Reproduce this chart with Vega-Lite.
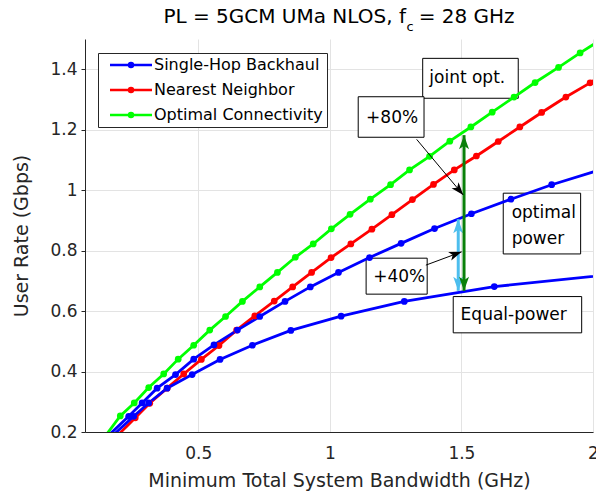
{
  "$schema": "https://vega.github.io/schema/vega-lite/v6.json",
  "autosize": {"type": "none"},
  "padding": {"left": 85, "top": 39, "right": 3, "bottom": 65},
  "width": 508,
  "height": 393,
  "background": "#ffffff",
  "config": {
    "view": {"stroke": null},
    "font": "DejaVu Sans"
  },
  "title": {
    "text": "PL = 5GCM UMa NLOS, f\u00a0 = 28 GHz",
    "font": "DejaVu Sans",
    "fontSize": 20,
    "fontWeight": "normal",
    "color": "#000000",
    "anchor": "middle",
    "frame": "group",
    "baseline": "top",
    "offset": -6.5
  },
  "datasets": {
    "series": [
      {"s": "Optimal Connectivity", "p": "opt", "x": 0.12, "y": 0.155},
      {"s": "Optimal Connectivity", "p": "opt", "x": 0.204, "y": 0.253},
      {"s": "Optimal Connectivity", "p": "opt", "x": 0.257, "y": 0.296},
      {"s": "Optimal Connectivity", "p": "opt", "x": 0.312, "y": 0.347},
      {"s": "Optimal Connectivity", "p": "opt", "x": 0.369, "y": 0.392},
      {"s": "Optimal Connectivity", "p": "opt", "x": 0.424, "y": 0.441},
      {"s": "Optimal Connectivity", "p": "opt", "x": 0.483, "y": 0.487},
      {"s": "Optimal Connectivity", "p": "opt", "x": 0.544, "y": 0.537},
      {"s": "Optimal Connectivity", "p": "opt", "x": 0.604, "y": 0.582},
      {"s": "Optimal Connectivity", "p": "opt", "x": 0.668, "y": 0.632},
      {"s": "Optimal Connectivity", "p": "opt", "x": 0.734, "y": 0.680},
      {"s": "Optimal Connectivity", "p": "opt", "x": 0.801, "y": 0.728},
      {"s": "Optimal Connectivity", "p": "opt", "x": 0.869, "y": 0.778},
      {"s": "Optimal Connectivity", "p": "opt", "x": 0.937, "y": 0.822},
      {"s": "Optimal Connectivity", "p": "opt", "x": 1.006, "y": 0.872},
      {"s": "Optimal Connectivity", "p": "opt", "x": 1.077, "y": 0.920},
      {"s": "Optimal Connectivity", "p": "opt", "x": 1.154, "y": 0.970},
      {"s": "Optimal Connectivity", "p": "opt", "x": 1.231, "y": 1.018},
      {"s": "Optimal Connectivity", "p": "opt", "x": 1.303, "y": 1.067},
      {"s": "Optimal Connectivity", "p": "opt", "x": 1.379, "y": 1.112},
      {"s": "Optimal Connectivity", "p": "opt", "x": 1.456, "y": 1.162},
      {"s": "Optimal Connectivity", "p": "opt", "x": 1.536, "y": 1.209},
      {"s": "Optimal Connectivity", "p": "opt", "x": 1.617, "y": 1.258},
      {"s": "Optimal Connectivity", "p": "opt", "x": 1.700, "y": 1.308},
      {"s": "Optimal Connectivity", "p": "opt", "x": 1.780, "y": 1.356},
      {"s": "Optimal Connectivity", "p": "opt", "x": 1.869, "y": 1.406},
      {"s": "Optimal Connectivity", "p": "opt", "x": 1.951, "y": 1.454},
      {"s": "Optimal Connectivity", "p": "opt", "x": 2.04, "y": 1.503},

      {"s": "Nearest Neighbor", "p": "opt", "x": 0.155, "y": 0.155},
      {"s": "Nearest Neighbor", "p": "opt", "x": 0.261, "y": 0.247},
      {"s": "Nearest Neighbor", "p": "opt", "x": 0.316, "y": 0.295},
      {"s": "Nearest Neighbor", "p": "opt", "x": 0.382, "y": 0.345},
      {"s": "Nearest Neighbor", "p": "opt", "x": 0.445, "y": 0.392},
      {"s": "Nearest Neighbor", "p": "opt", "x": 0.512, "y": 0.440},
      {"s": "Nearest Neighbor", "p": "opt", "x": 0.579, "y": 0.486},
      {"s": "Nearest Neighbor", "p": "opt", "x": 0.646, "y": 0.537},
      {"s": "Nearest Neighbor", "p": "opt", "x": 0.715, "y": 0.584},
      {"s": "Nearest Neighbor", "p": "opt", "x": 0.789, "y": 0.633},
      {"s": "Nearest Neighbor", "p": "opt", "x": 0.859, "y": 0.680},
      {"s": "Nearest Neighbor", "p": "opt", "x": 0.931, "y": 0.728},
      {"s": "Nearest Neighbor", "p": "opt", "x": 1.005, "y": 0.777},
      {"s": "Nearest Neighbor", "p": "opt", "x": 1.080, "y": 0.822},
      {"s": "Nearest Neighbor", "p": "opt", "x": 1.160, "y": 0.871},
      {"s": "Nearest Neighbor", "p": "opt", "x": 1.236, "y": 0.919},
      {"s": "Nearest Neighbor", "p": "opt", "x": 1.314, "y": 0.969},
      {"s": "Nearest Neighbor", "p": "opt", "x": 1.394, "y": 1.019},
      {"s": "Nearest Neighbor", "p": "opt", "x": 1.473, "y": 1.067},
      {"s": "Nearest Neighbor", "p": "opt", "x": 1.557, "y": 1.113},
      {"s": "Nearest Neighbor", "p": "opt", "x": 1.640, "y": 1.161},
      {"s": "Nearest Neighbor", "p": "opt", "x": 1.722, "y": 1.209},
      {"s": "Nearest Neighbor", "p": "opt", "x": 1.805, "y": 1.257},
      {"s": "Nearest Neighbor", "p": "opt", "x": 1.897, "y": 1.308},
      {"s": "Nearest Neighbor", "p": "opt", "x": 1.989, "y": 1.355},
      {"s": "Nearest Neighbor", "p": "opt", "x": 2.08, "y": 1.405},

      {"s": "Single-Hop Backhaul", "p": "opt", "x": 0.125, "y": 0.16},
      {"s": "Single-Hop Backhaul", "p": "opt", "x": 0.236, "y": 0.252},
      {"s": "Single-Hop Backhaul", "p": "opt", "x": 0.287, "y": 0.296},
      {"s": "Single-Hop Backhaul", "p": "opt", "x": 0.344, "y": 0.345},
      {"s": "Single-Hop Backhaul", "p": "opt", "x": 0.414, "y": 0.390},
      {"s": "Single-Hop Backhaul", "p": "opt", "x": 0.483, "y": 0.441},
      {"s": "Single-Hop Backhaul", "p": "opt", "x": 0.560, "y": 0.488},
      {"s": "Single-Hop Backhaul", "p": "opt", "x": 0.649, "y": 0.537},
      {"s": "Single-Hop Backhaul", "p": "opt", "x": 0.734, "y": 0.582},
      {"s": "Single-Hop Backhaul", "p": "opt", "x": 0.830, "y": 0.632},
      {"s": "Single-Hop Backhaul", "p": "opt", "x": 0.926, "y": 0.680},
      {"s": "Single-Hop Backhaul", "p": "opt", "x": 1.033, "y": 0.728},
      {"s": "Single-Hop Backhaul", "p": "opt", "x": 1.151, "y": 0.777},
      {"s": "Single-Hop Backhaul", "p": "opt", "x": 1.271, "y": 0.824},
      {"s": "Single-Hop Backhaul", "p": "opt", "x": 1.398, "y": 0.873},
      {"s": "Single-Hop Backhaul", "p": "opt", "x": 1.538, "y": 0.922},
      {"s": "Single-Hop Backhaul", "p": "opt", "x": 1.688, "y": 0.970},
      {"s": "Single-Hop Backhaul", "p": "opt", "x": 1.843, "y": 1.018},
      {"s": "Single-Hop Backhaul", "p": "opt", "x": 2.025, "y": 1.067},

      {"s": "Single-Hop Backhaul", "p": "equal", "x": 0.14, "y": 0.16},
      {"s": "Single-Hop Backhaul", "p": "equal", "x": 0.255, "y": 0.252},
      {"s": "Single-Hop Backhaul", "p": "equal", "x": 0.312, "y": 0.296},
      {"s": "Single-Hop Backhaul", "p": "equal", "x": 0.382, "y": 0.345},
      {"s": "Single-Hop Backhaul", "p": "equal", "x": 0.477, "y": 0.390},
      {"s": "Single-Hop Backhaul", "p": "equal", "x": 0.583, "y": 0.440},
      {"s": "Single-Hop Backhaul", "p": "equal", "x": 0.706, "y": 0.487},
      {"s": "Single-Hop Backhaul", "p": "equal", "x": 0.852, "y": 0.536},
      {"s": "Single-Hop Backhaul", "p": "equal", "x": 1.043, "y": 0.583},
      {"s": "Single-Hop Backhaul", "p": "equal", "x": 1.283, "y": 0.632},
      {"s": "Single-Hop Backhaul", "p": "equal", "x": 1.625, "y": 0.681},
      {"s": "Single-Hop Backhaul", "p": "equal", "x": 2.15, "y": 0.728}
    ],
    "boxes": [
      {"label": "joint opt.", "x": 1.353, "x2": 1.716, "y": 1.304, "y2": 1.436},
      {"label": "+80%", "x": 1.108, "x2": 1.358, "y": 1.175, "y2": 1.309},
      {"label": "optimal power", "x": 1.659, "x2": 1.953, "y": 0.789, "y2": 0.990},
      {"label": "+40%", "x": 1.138, "x2": 1.370, "y": 0.656, "y2": 0.775},
      {"label": "Equal-power", "x": 1.469, "x2": 1.957, "y": 0.528, "y2": 0.648}
    ],
    "texts": [
      {"t": "joint opt.", "x": 1.378, "y": 1.370},
      {"t": "+80%", "x": 1.138, "y": 1.238},
      {"t": "optimal", "x": 1.691, "y": 0.923},
      {"t": "power", "x": 1.691, "y": 0.837},
      {"t": "+40%", "x": 1.165, "y": 0.714},
      {"t": "Equal-power", "x": 1.497, "y": 0.587}
    ]
  },
  "encoding": {
    "x": {
      "field": "x", "type": "quantitative",
      "scale": {"domain": [0.07, 2], "nice": false, "zero": false},
      "title": "Minimum Total System Bandwidth (GHz)",
      "axis": {
        "values": [0.5, 1, 1.5, 2], "format": "~g", "grid": true, "gridColor": "#e3e3e3",
        "tickSize": 0, "labelPadding": 13, "labelFlush": false,
        "labelFont": "DejaVu Sans", "labelFontSize": 17, "labelColor": "#262626",
        "domainColor": "#262626", "titleFont": "DejaVu Sans", "titleFontSize": 19,
        "titleFontWeight": "normal", "titleColor": "#262626", "titlePadding": 10
      }
    },
    "y": {
      "field": "y", "type": "quantitative",
      "scale": {"domain": [0.2, 1.5], "nice": false, "zero": false},
      "title": "User Rate (Gbps)",
      "axis": {
        "values": [0.2, 0.4, 0.6, 0.8, 1, 1.2, 1.4], "format": "~g", "grid": true, "gridColor": "#e3e3e3",
        "tickSize": 4, "tickColor": "#262626", "labelPadding": 4, "labelFlush": false,
        "labelFont": "DejaVu Sans", "labelFontSize": 17, "labelColor": "#262626",
        "domainColor": "#262626", "titleFont": "DejaVu Sans", "titleFontSize": 19,
        "titleFontWeight": "normal", "titleColor": "#262626", "titlePadding": 18
      }
    }
  },
  "layer": [
    {
      "data": {"name": "boxes"},
      "mark": {"type": "rect", "fill": "#ffffff", "stroke": "#000000", "strokeWidth": 1},
      "encoding": {"x2": {"field": "x2"}, "y2": {"field": "y2"}}
    },
    {
      "data": {"name": "series"},
      "mark": {"type": "line", "strokeWidth": 2.8, "clip": true},
      "encoding": {
        "color": {
          "field": "s", "type": "nominal",
          "scale": {"domain": ["Single-Hop Backhaul", "Nearest Neighbor", "Optimal Connectivity"], "range": ["#0000FF", "#FF0000", "#00FF00"]},
          "legend": {
            "title": null, "orient": "none", "legendX": 13, "legendY": 14, "padding": 4,
            "strokeColor": "#262626", "fillColor": "#ffffff",
            "symbolType": "M-1,0 L7.4,0 M3.6,0 A0.4,0.4 0 1,1 2.8,0 A0.4,0.4 0 1,1 3.6,0 Z",
            "symbolSize": 100, "symbolStrokeWidth": 2.5, "symbolOffset": 5, "labelOffset": 31,
            "labelFont": "DejaVu Sans", "labelFontSize": 16, "labelColor": "#000000",
            "rowPadding": 9, "labelLimit": 400,
            "encode": {"symbols": {"update": {"stroke": {"scale": "color", "field": "value"}, "fill": {"scale": "color", "field": "value"}, "opacity": {"value": 1}}}}
          }
        },
        "detail": {"field": "p"}
      }
    },
    {
      "data": {"name": "series"},
      "mark": {"type": "point", "filled": true, "size": 45, "opacity": 1, "clip": true},
      "encoding": {
        "color": {"field": "s", "type": "nominal"},
        "detail": {"field": "p"}
      }
    },
    {
      "data": {"values": [{"x": 1.488, "y": 0.667, "y2": 0.904}]},
      "mark": {"type": "rule", "color": "#4DBEEE", "strokeWidth": 3},
      "encoding": {"y2": {"field": "y2"}}
    },
    {
      "data": {"values": [{"x": 1.488, "y": 0.904}]},
      "mark": {"type": "point", "filled": true, "opacity": 1, "color": "#4DBEEE", "size": 400, "angle": 0, "shape": "M0,0 L-0.5,1.4 L0,1.05 L0.5,1.4 Z"}
    },
    {
      "data": {"values": [{"x": 1.488, "y": 0.667}]},
      "mark": {"type": "point", "filled": true, "opacity": 1, "color": "#4DBEEE", "size": 400, "angle": 180, "shape": "M0,0 L-0.5,1.4 L0,1.05 L0.5,1.4 Z"}
    },
    {
      "data": {"values": [{"x": 1.510, "y": 0.667, "y2": 1.182}]},
      "mark": {"type": "rule", "color": "#0a800a", "strokeWidth": 3},
      "encoding": {"y2": {"field": "y2"}}
    },
    {
      "data": {"values": [{"x": 1.510, "y": 1.182}]},
      "mark": {"type": "point", "filled": true, "opacity": 1, "color": "#0a800a", "size": 400, "angle": 0, "shape": "M0,0 L-0.5,1.4 L0,1.05 L0.5,1.4 Z"}
    },
    {
      "data": {"values": [{"x": 1.510, "y": 0.667}]},
      "mark": {"type": "point", "filled": true, "opacity": 1, "color": "#0a800a", "size": 400, "angle": 180, "shape": "M0,0 L-0.5,1.4 L0,1.05 L0.5,1.4 Z"}
    },
    {
      "data": {"values": [{"x": 1.330, "y": 1.168, "x2": 1.507, "y2": 0.984}, {"x": 1.365, "y": 0.752, "x2": 1.501, "y2": 0.796}]},
      "mark": {"type": "rule", "color": "#000000", "strokeWidth": 1},
      "encoding": {"x2": {"field": "x2"}, "y2": {"field": "y2"}}
    },
    {
      "data": {"values": [{"x": 1.507, "y": 0.984}]},
      "mark": {"type": "point", "filled": true, "opacity": 1, "color": "#000000", "size": 330, "angle": 140, "shape": "M0,0 L-0.5,1.4 L0,1.05 L0.5,1.4 Z"}
    },
    {
      "data": {"values": [{"x": 1.501, "y": 0.796}]},
      "mark": {"type": "point", "filled": true, "opacity": 1, "color": "#000000", "size": 330, "angle": 70, "shape": "M0,0 L-0.5,1.4 L0,1.05 L0.5,1.4 Z"}
    },
    {
      "data": {"name": "texts"},
      "mark": {"type": "text", "align": "left", "baseline": "middle", "font": "DejaVu Sans", "fontSize": 17, "color": "#000000"},
      "encoding": {"text": {"field": "t"}}
    },
    {
      "data": {"values": [{"t": "c", "x": 1.305, "y": 1.540}]},
      "mark": {"type": "text", "align": "center", "baseline": "middle", "font": "DejaVu Sans", "fontSize": 13, "color": "#000000"},
      "encoding": {"text": {"field": "t"}}
    }
  ]
}
